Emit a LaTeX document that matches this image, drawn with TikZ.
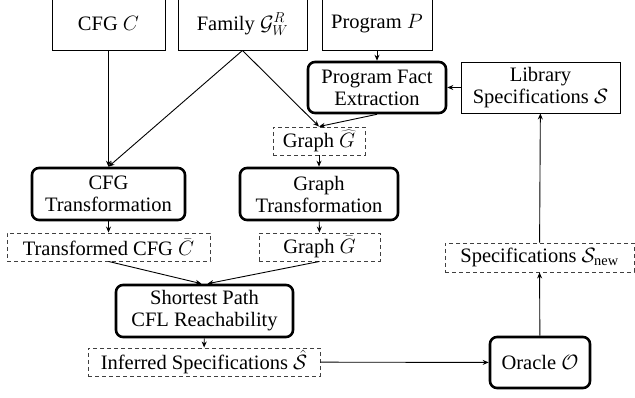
\documentclass[tikz,border=0pt]{standalone}
\usepackage{fontspec}
\setmainfont{Liberation Serif}[Ligatures=TeX]
\usepackage{tikz}
\usetikzlibrary{arrows.meta,positioning,calc}
\definecolor{cInk}{HTML}{000000}
\definecolor{cDash}{HTML}{404040}
\tikzset{
  >={Stealth[length=6pt,width=5pt]},
  box/.style ={draw=cInk,line width=0.9pt,align=center,inner sep=0pt,
               font=\rmfamily\fontsize{20.5}{22}\selectfont},
  tbox/.style={box,line width=2.6pt,rounded corners=7pt},
  dbox/.style={box,draw=cDash,dash pattern=on 4pt off 3pt},
  ar/.style ={->,line width=0.9pt,cInk},
}

\begin{document}
\begin{tikzpicture}[x=1pt,y=1pt]
\useasboundingbox (0,0) rectangle (635,-398);
% inputs (cut at the top)
\node[box,minimum width=113,minimum height=52] (cfg)  at (108.5,-24) {CFG $C$};
\node[box,minimum width=129,minimum height=52] (fam)  at (242.5,-24) {Family $\mathcal{G}_W^R$};
\node[box,minimum width=110,minimum height=52] (prog) at (377,-24)   {Program $P$};
% fact extraction
\node[tbox,minimum width=138,minimum height=51] (pfe) at (377,-87.5) {Program Fact\\Extraction};
\node[box,minimum width=159,minimum height=51]  (lib) at (540.5,-87.5) {Library\\Specifications $\mathcal{S}$};
\node[dbox,minimum width=92,minimum height=28]  (gh)  at (319,-141) {Graph $\widehat{G}$};
% transformations
\node[tbox,minimum width=153,minimum height=52] (cfgt) at (108.5,-194) {CFG\\Transformation};
\node[tbox,minimum width=158,minimum height=52] (gt)   at (319,-194)   {Graph\\Transformation};
\node[dbox,minimum width=203,minimum height=28] (tcfg) at (108.5,-247) {Transformed CFG $\bar{C}$};
\node[dbox,minimum width=121,minimum height=28] (gb)   at (319.5,-247) {Graph $\bar{G}$};
% reachability and oracle
\node[tbox,minimum width=177,minimum height=52] (sp)   at (204.5,-311) {Shortest Path\\CFL Reachability};
\node[dbox,minimum width=232,minimum height=28] (inf)  at (204,-362)   {Inferred Specifications $\hat{\mathcal{S}}$};
\node[tbox,minimum width=100,minimum height=51] (orc)  at (540,-362.5) {Oracle $\mathcal{O}$};
\node[dbox,minimum width=189,minimum height=29] (snew) at (539.5,-257.5) {Specifications $\mathcal{S}_{\mathrm{new}}$};

\draw[ar] (cfg) -- (cfgt);
\draw[ar] (fam.south) -- (cfgt.north);
\draw[ar] (fam.south) -- (gh.north);
\draw[ar] (prog) -- (pfe);
\draw[ar] (lib) -- (pfe);
\draw[ar] (pfe.south) -- (gh.north);
\draw[ar] (gh) -- (gt);
\draw[ar] (cfgt) -- (tcfg);
\draw[ar] (gt) -- (gb);
\draw[ar] (tcfg.south) -- ([xshift=-3]sp.north);
\draw[ar] (gb.south) -- ([xshift=3]sp.north);
\draw[ar] (sp) -- (inf);
\draw[ar] (inf) -- (orc);
\draw[ar] (orc) -- (snew);
\draw[ar] (snew) -- (lib);
\end{tikzpicture}
\end{document}
